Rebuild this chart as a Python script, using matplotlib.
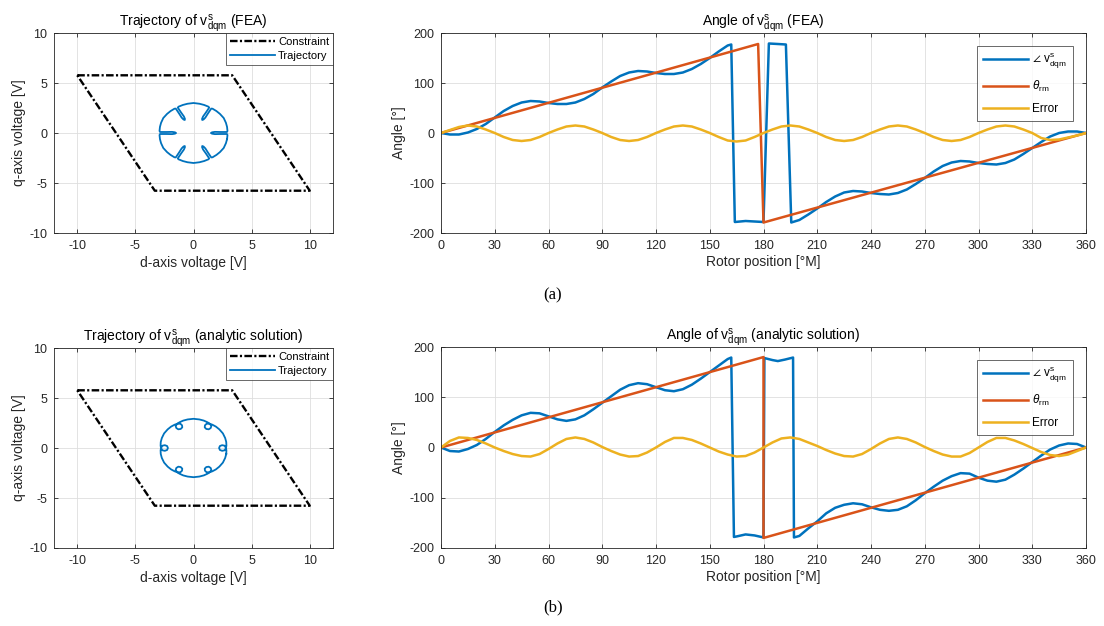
import numpy as np
import matplotlib
matplotlib.use("Agg")
import matplotlib.pyplot as plt

plt.rcParams['font.family'] = ['Liberation Sans', 'DejaVu Sans']
plt.rcParams['mathtext.fontset'] = 'custom'
plt.rcParams['mathtext.rm'] = 'Liberation Sans'
plt.rcParams['mathtext.it'] = 'Liberation Sans:italic'
plt.rcParams['mathtext.bf'] = 'Liberation Sans:bold'
plt.rcParams['axes.unicode_minus'] = False

BLUE = '#0072BD'
ORANGE = '#D95319'
YELLOW = '#EDB120'
TXT = '#262626'

# --- constraint (parallelogram) ---
constraint_d = [-10, 3.33, 10, -3.33, -10]
constraint_q = [5.77, 5.77, -5.77, -5.77, 5.77]

# --- trajectory FEA: polar samples (angle deg, magnitude V) ---
traj_fea_phi = [
    -12, -4, -2, -2.5, -3.5, -2.5, 0, 2.5, 3.5, 2.5, 2, 4, 12, 20, 30, 40,
    48, 56, 58, 57.5, 56.5, 57.5, 60, 62.5, 63.5, 62.5, 62, 64, 72, 80, 90, 100,
    108, 116, 118, 117.5, 116.5, 117.5, 120, 122.5, 123.5, 122.5, 122, 124, 132, 140, 150, 160,
    168, 176, 178, 177.5, 176.5, 177.5, 180, 182.5, 183.5, 182.5, 182, 184, 192, 200, 210, 220,
    228, 236, 238, 237.5, 236.5, 237.5, 240, 242.5, 243.5, 242.5, 242, 244, 252, 260, 270, 280,
    288, 296, 298, 297.5, 296.5, 297.5, 300, 302.5, 303.5, 302.5, 302, 304, 312, 320, 330, 340,
    348,
]
traj_fea_r = [
    2.95, 2.93, 2.88, 2.3, 1.85, 1.6, 1.5, 1.6, 1.85, 2.3, 2.88, 2.93, 2.95, 2.97, 3.0, 2.97,
    2.95, 2.93, 2.88, 2.3, 1.85, 1.6, 1.5, 1.6, 1.85, 2.3, 2.88, 2.93, 2.95, 2.97, 3.0, 2.97,
    2.95, 2.93, 2.88, 2.3, 1.85, 1.6, 1.5, 1.6, 1.85, 2.3, 2.88, 2.93, 2.95, 2.97, 3.0, 2.97,
    2.95, 2.93, 2.88, 2.3, 1.85, 1.6, 1.5, 1.6, 1.85, 2.3, 2.88, 2.93, 2.95, 2.97, 3.0, 2.97,
    2.95, 2.93, 2.88, 2.3, 1.85, 1.6, 1.5, 1.6, 1.85, 2.3, 2.88, 2.93, 2.95, 2.97, 3.0, 2.97,
    2.95, 2.93, 2.88, 2.3, 1.85, 1.6, 1.5, 1.6, 1.85, 2.3, 2.88, 2.93, 2.95, 2.97, 3.0, 2.97,
    2.95,
]

# --- trajectory analytic: polar samples ---
traj_ana_phi = [
    -12, -5, 0, 5, 6.5, 5, 0, -5, -6.5, -5, 0, 5, 12, 20, 30, 40,
    48, 55, 60, 65, 66.5, 65, 60, 55, 53.5, 55, 60, 65, 72, 80, 90, 100,
    108, 115, 120, 125, 126.5, 125, 120, 115, 113.5, 115, 120, 125, 132, 140, 150, 160,
    168, 175, 180, 185, 186.5, 185, 180, 175, 173.5, 175, 180, 185, 192, 200, 210, 220,
    228, 235, 240, 245, 246.5, 245, 240, 235, 233.5, 235, 240, 245, 252, 260, 270, 280,
    288, 295, 300, 305, 306.5, 305, 300, 295, 293.5, 295, 300, 305, 312, 320, 330, 340,
    348,
]
traj_ana_r = [
    2.88, 2.84, 2.8, 2.68, 2.48, 2.28, 2.2, 2.28, 2.48, 2.68, 2.8, 2.84, 2.88, 2.9, 2.92, 2.9,
    2.88, 2.84, 2.8, 2.68, 2.48, 2.28, 2.2, 2.28, 2.48, 2.68, 2.8, 2.84, 2.88, 2.9, 2.92, 2.9,
    2.88, 2.84, 2.8, 2.68, 2.48, 2.28, 2.2, 2.28, 2.48, 2.68, 2.8, 2.84, 2.88, 2.9, 2.92, 2.9,
    2.88, 2.84, 2.8, 2.68, 2.48, 2.28, 2.2, 2.28, 2.48, 2.68, 2.8, 2.84, 2.88, 2.9, 2.92, 2.9,
    2.88, 2.84, 2.8, 2.68, 2.48, 2.28, 2.2, 2.28, 2.48, 2.68, 2.8, 2.84, 2.88, 2.9, 2.92, 2.9,
    2.88, 2.84, 2.8, 2.68, 2.48, 2.28, 2.2, 2.28, 2.48, 2.68, 2.8, 2.84, 2.88, 2.9, 2.92, 2.9,
    2.88,
]

# --- angle data (FEA) ---
err_pos = np.arange(0, 361, 5)
err_fea = [
    0, 6, 12, 15, 13, 7, 0, -8, -14, -16, -14, -8,
    0, 7, 13, 15, 13, 7, 0, -8, -14, -16, -14, -8,
    0, 7, 13, 15, 13, 7, 0, -8, -15, -17, -15, -8,
    0, 7, 13, 15, 13, 7, 0, -8, -14, -16, -14, -8,
    0, 7, 13, 15, 13, 7, 0, -8, -14, -16, -14, -8,
    0, 7, 13, 15, 13, 7, 0, -10, -14, -13, -9, -5,
    0,
]
ang_fea_x = [0, 5, 10, 15, 20, 25, 30, 35, 40, 45, 50, 55, 60, 65, 70, 75, 80, 85, 90, 95,
             100, 105, 110, 115, 120, 125, 130, 135, 140, 145, 150, 155, 160,
             162, 164, 170, 175, 180, 183, 188, 192.5, 195.5,
             200, 205, 210, 215, 220, 225, 230, 235, 240, 245, 250, 255, 260, 265, 270, 275,
             280, 285, 290, 295, 300, 305, 310, 315, 320, 325, 330, 335, 340, 345, 350, 355, 360]
ang_fea_y = [0, -3, -3, 1, 8, 18, 31, 44, 54, 61, 64, 63, 60, 58, 58, 61, 68, 78, 91, 103,
             114, 121, 124, 123, 120, 118, 118, 121, 128, 138, 150, 163, 175,
             177, -178, -176, -177, -178, 179, 178, 177, -179,
             -174, -163, -151, -138, -127, -119, -116, -117, -120, -122, -123, -120, -113, -102, -90, -77,
             -66, -59, -56, -57, -60, -62, -63, -60, -53, -42, -30, -18, -7, 0, 3, 3, 0]
rot_fea_x = [0, 177, 180, 360]
rot_fea_y = [0, 178, -179, 0]

# --- angle data (analytic) ---
err_ana = [
    0, 13, 20, 19, 15, 8, 0, -7, -13, -17, -18, -13,
    -3, 8, 17, 20, 17, 10, 1, -7, -14, -18, -17, -10,
    0, 11, 19, 19, 15, 8, 0, -8, -14, -18, -17, -10,
    0, 10, 18, 20, 17, 10, 3, -5, -12, -17, -18, -13,
    -3, 8, 17, 20, 17, 10, 1, -7, -14, -18, -18, -11,
    0, 11, 19, 19, 14, 7, -1, -9, -15, -17, -14, -7,
    0,
]
ang_ana_x = [0, 5, 10, 15, 20, 25, 30, 35, 40, 45, 50, 55, 60, 65, 70, 75, 80, 85, 90, 95,
             100, 105, 110, 115, 120, 125, 130, 135, 140, 145, 150, 155, 160,
             162, 163.5, 165, 170, 175, 180, 180.5, 185, 188, 192, 196.5, 197,
             200, 205, 210, 215, 220, 225, 230, 235, 240, 245, 250, 255, 260, 265, 270, 275,
             280, 285, 290, 295, 300, 305, 310, 315, 320, 325, 330, 335, 340, 345, 350, 355, 360]
ang_ana_y = [0, -7, -8, -3, 5, 17, 31, 44, 55, 64, 69, 68, 62, 56, 53, 56, 64, 76, 89, 102,
             115, 124, 128, 126, 120, 114, 112, 116, 125, 137, 150, 163, 176,
             179, -178, -177, -173, -175, -179, 178, 174, 172, 175, 179, -179,
             -176, -161, -147, -131, -120, -114, -111, -113, -119, -124, -126, -124, -117, -105, -91, -78,
             -66, -57, -51, -52, -60, -66, -68, -64, -54, -42, -29, -16, -4, 4, 8, 7, 0]
rot_ana_x = [0, 180, 180, 360]
rot_ana_y = [0, 180, -180, 0]

W, H = 1104, 626
fig = plt.figure(figsize=(W / 100, H / 100), dpi=100)


def box(x0, y0, x1, y1):
    return [x0 / W, 1 - y1 / H, (x1 - x0) / W, (y1 - y0) / H]


def style(ax):
    ax.grid(True, color='#dedede', linewidth=0.6)
    ax.set_axisbelow(True)
    ax.tick_params(direction='in', length=3, width=0.6, top=True, right=True,
                   labelsize=9, colors=TXT, pad=5)
    for s in ax.spines.values():
        s.set_color(TXT)
        s.set_linewidth(0.6)


vs = r'v$^{\mathrm{s}}_{\mathrm{dqm}}$'


def traj_panel(rect, phi, r, title):
    ax = fig.add_axes(rect)
    ph = np.deg2rad(phi)
    ax.plot(constraint_d, constraint_q, color='k', lw=1.7, dashes=(3.2, 1.0, 0.9, 1.0),
            label='Constraint')
    ax.plot(np.array(r) * np.cos(ph), np.array(r) * np.sin(ph), color=BLUE, lw=1.3, label='Trajectory')
    ax.set_xlim(-12, 12)
    ax.set_ylim(-10, 10)
    ax.set_xticks([-10, -5, 0, 5, 10])
    ax.set_yticks([-10, -5, 0, 5, 10])
    style(ax)
    ax.set_xlabel('d-axis voltage [V]', fontsize=10, color=TXT, labelpad=3)
    ax.set_ylabel('q-axis voltage [V]', fontsize=10, color=TXT, labelpad=2)
    ax.set_title(title, fontsize=10, color='k', pad=5)
    leg = ax.legend(loc='upper right', fontsize=8, borderaxespad=0, fancybox=False,
                    handlelength=4, labelspacing=0.4, borderpad=0.35, handletextpad=0.3)
    leg.get_frame().set_edgecolor(TXT)
    leg.get_frame().set_linewidth(0.6)
    return ax


def angle_panel(rect, ex, ey, rx, ry, err, title):
    ax = fig.add_axes(rect)
    ax.plot(ex, ey, color=BLUE, lw=1.8, label=r'$\angle$ ' + vs)
    ax.plot(rx, ry, color=ORANGE, lw=1.8, label=r'$\theta_{\mathrm{rm}}$')
    ax.plot(err_pos, err, color=YELLOW, lw=1.8, label='Error')
    ax.set_xlim(0, 360)
    ax.set_ylim(-200, 200)
    ax.set_xticks(np.arange(0, 361, 30))
    ax.set_yticks([-200, -100, 0, 100, 200])
    style(ax)
    ax.set_xlabel('Rotor position [°M]', fontsize=10, color=TXT, labelpad=2)
    ax.set_ylabel('Angle [°]', fontsize=10, color=TXT, labelpad=2)
    ax.set_title(title, fontsize=10, color='k', pad=5)
    leg = ax.legend(loc='upper right', fontsize=8.5, borderaxespad=1.1, fancybox=False,
                    handlelength=3.8, labelspacing=0.7, borderpad=0.5, handletextpad=0.4)
    leg.get_frame().set_edgecolor(TXT)
    leg.get_frame().set_linewidth(0.6)
    return ax


traj_panel(box(54, 33, 333, 233), traj_fea_phi, traj_fea_r, 'Trajectory of ' + vs + ' (FEA)')
angle_panel(box(441, 33, 1086, 233), ang_fea_x, ang_fea_y, rot_fea_x, rot_fea_y, err_fea,
            'Angle of ' + vs + ' (FEA)')
traj_panel(box(54, 348, 333, 548), traj_ana_phi, traj_ana_r,
           'Trajectory of ' + vs + ' (analytic solution)')
angle_panel(box(441, 347, 1086, 548), ang_ana_x, ang_ana_y, rot_ana_x, rot_ana_y, err_ana,
            'Angle of ' + vs + ' (analytic solution)')

fig.text(553 / W, 1 - 295 / H, '(a)', ha='center', va='center', family='Liberation Serif', fontsize=12)
fig.text(553 / W, 1 - 607 / H, '(b)', ha='center', va='center', family='Liberation Serif', fontsize=12)

fig.savefig('out.png', dpi=100)
